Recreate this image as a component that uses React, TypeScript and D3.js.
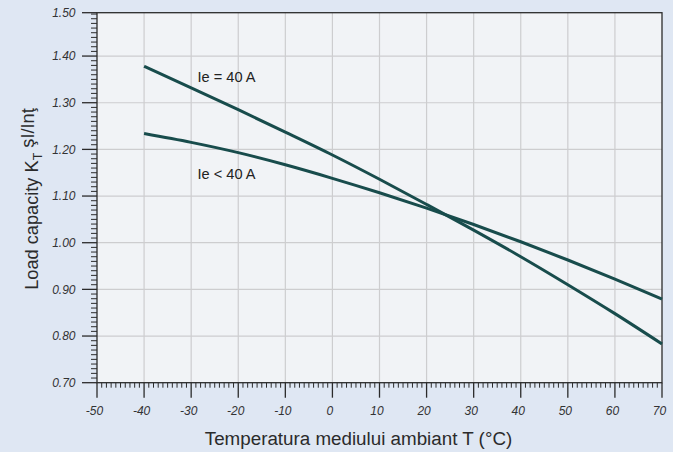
import React from "react";
import * as d3 from "d3";

const temps = [-40, -30, -20, -10, 0, 10, 20, 30, 40, 50, 60, 70];
const kIe40 = [1.378, 1.332, 1.285, 1.237, 1.188, 1.136, 1.082, 1.027, 0.970, 0.910, 0.848, 0.783];
const kIeLess40 = [1.234, 1.215, 1.193, 1.167, 1.138, 1.107, 1.074, 1.039, 1.002, 0.963, 0.922, 0.879];
const xTicks = [-50, -40, -30, -20, -10, 0, 10, 20, 30, 40, 50, 60, 70];
const yTicks = [0.7, 0.8, 0.9, 1.0, 1.1, 1.2, 1.3, 1.4, 1.5];
const seriesLabels = ["Ie = 40 A", "Ie < 40 A"];

const W = 673;
const H = 452;
const left = 97;
const right = 662;
const top = 12.7;
const bottom = 382.7;

export default function App() {
  const x = d3.scaleLinear().domain([-50, 70]).range([left, right]);
  const y = d3.scaleLinear().domain([0.7, 1.5]).range([bottom, 9.4]);
  const line = d3
    .line<[number, number]>()
    .x((d) => x(d[0]))
    .y((d) => y(d[1]))
    .curve(d3.curveMonotoneX);

  const minorX = d3.range(-50, 71, 1).filter((v) => v % 10 !== 0);
  const minorY = d3.range(70, 150, 1).filter((v) => v % 10 !== 0).map((v) => v / 100);
  const font = "Arial, 'Liberation Sans', Helvetica, sans-serif";
  const ink = "#2b2b2b";
  const lineColor = "#184c4c";

  return (
    <svg
      width={W}
      height={H}
      style={{ position: "fixed", left: 0, top: 0, display: "block" }}
      fontFamily={font}
    >
      <rect x={0} y={0} width={W} height={H} fill="#dfe7f3" />
      <rect x={left} y={top} width={right - left} height={bottom - top} fill="#f1f3f6" />
      {/* grid */}
      {xTicks.slice(1, -1).map((t) => (
        <line key={"gx" + t} x1={x(t)} x2={x(t)} y1={top} y2={bottom} stroke="#cdcdcf" strokeWidth={1.2} />
      ))}
      {yTicks.slice(1, -1).map((t) => (
        <line key={"gy" + t} x1={left} x2={right} y1={y(t)} y2={y(t)} stroke="#cdcdcf" strokeWidth={1.2} />
      ))}
      {/* minor ticks */}
      {minorX.map((t) => (
        <line key={"mx" + t} x1={x(t)} x2={x(t)} y1={bottom} y2={bottom + 5} stroke={ink} strokeWidth={1} />
      ))}
      {minorY.map((t) => (
        <line key={"my" + t} x1={left - 6} x2={left} y1={y(t)} y2={y(t)} stroke={ink} strokeWidth={1} />
      ))}
      {/* major ticks */}
      {xTicks.map((t) => (
        <line key={"Mx" + t} x1={x(t)} x2={x(t)} y1={bottom} y2={bottom + 15} stroke={ink} strokeWidth={1.3} />
      ))}
      {yTicks.map((t) => {
        const yy = Math.max(y(t), top);
        return <line key={"My" + t} x1={left - 15} x2={left} y1={yy} y2={yy} stroke={ink} strokeWidth={1.3} />;
      })}
      {/* frame */}
      <rect x={left} y={top} width={right - left} height={bottom - top} fill="none" stroke={ink} strokeWidth={1.3} />
      {/* lines */}
      <path d={line(temps.map((t, i) => [t, kIe40[i]] as [number, number])) || ""} fill="none" stroke={lineColor} strokeWidth={3} />
      <path d={line(temps.map((t, i) => [t, kIeLess40[i]] as [number, number])) || ""} fill="none" stroke={lineColor} strokeWidth={3} />
      {/* annotations */}
      <text x={197.5} y={82} fontSize={14.6} fill="#222">{seriesLabels[0]}</text>
      <text x={197.5} y={179} fontSize={14.6} fill="#222">{seriesLabels[1]}</text>
      {/* tick labels */}
      {xTicks.map((t) => (
        <text key={"lx" + t} x={x(t) - 2.5} y={415} fontSize={12} fontStyle="italic" textAnchor="middle" fill="#333">
          {t}
        </text>
      ))}
      {yTicks.map((t) => (
        <text key={"ly" + t} x={75.5} y={Math.max(y(t), top) + 4.3} fontSize={12} fontStyle="italic" textAnchor="end" fill="#333">
          {t.toFixed(2)}
        </text>
      ))}
      {/* axis titles */}
      <text x={358.5} y={445} fontSize={18.8} textAnchor="middle" fill="#2b2b2b">
        Temperatura mediului ambiant T (°C)
      </text>
      <text transform={`translate(38, ${199}) rotate(-90)`} fontSize={18.2} textAnchor="middle" fill="#2b2b2b">
        <tspan>Load capacity K</tspan>
        <tspan fontSize={12.5} dy={4}>T</tspan>
        <tspan dy={-8.5}> şI/Inţ</tspan>
      </text>
    </svg>
  );
}
